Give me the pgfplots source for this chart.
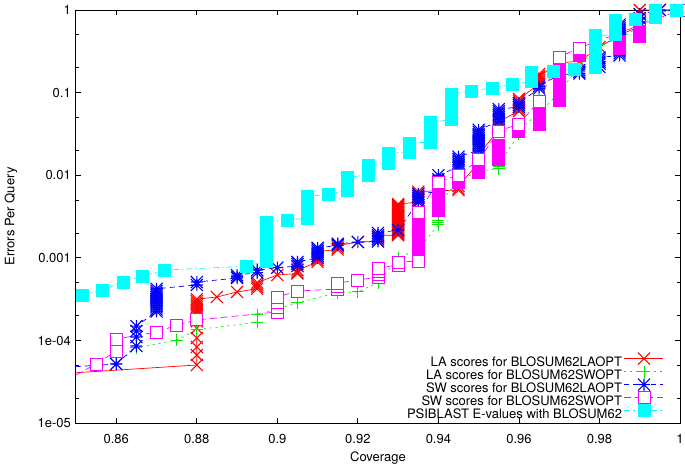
\documentclass[border=0pt]{standalone}
\usepackage{fontspec}
\setmainfont{TeX Gyre Heros}
\usepackage{pgfplots}
\pgfplotsset{compat=1.18}

\definecolor{gpred}{RGB}{255,0,0}
\definecolor{gpgreen}{RGB}{0,235,0}
\definecolor{gpblue}{RGB}{0,0,255}
\definecolor{gpmag}{RGB}{255,0,255}
\definecolor{gpcyan}{RGB}{0,255,255}
\newcommand\gpfont{\fontsize{13bp}{13bp}\selectfont}

% gnuplot-like point types, each one sets its own colours
\newcommand\gpxpath{%
  \pgfpathmoveto{\pgfqpoint{-\pgfplotmarksize}{-\pgfplotmarksize}}%
  \pgfpathlineto{\pgfqpoint{\pgfplotmarksize}{\pgfplotmarksize}}%
  \pgfpathmoveto{\pgfqpoint{-\pgfplotmarksize}{\pgfplotmarksize}}%
  \pgfpathlineto{\pgfqpoint{\pgfplotmarksize}{-\pgfplotmarksize}}}
\newcommand\gpppath{%
  \pgfpathmoveto{\pgfqpoint{-\pgfplotmarksize}{0pt}}%
  \pgfpathlineto{\pgfqpoint{\pgfplotmarksize}{0pt}}%
  \pgfpathmoveto{\pgfqpoint{0pt}{-\pgfplotmarksize}}%
  \pgfpathlineto{\pgfqpoint{0pt}{\pgfplotmarksize}}}
\newcommand\gpbpath{%
  \pgfpathrectangle{\pgfqpoint{-\pgfplotmarksize}{-\pgfplotmarksize}}%
    {\pgfqpoint{2\pgfplotmarksize}{2\pgfplotmarksize}}}
\pgfdeclareplotmark{gpx}{\pgfsetstrokecolor{gpred}\gpxpath\pgfusepathqstroke}
\pgfdeclareplotmark{gpplus}{\pgfsetstrokecolor{gpgreen}\gpppath\pgfusepathqstroke}
\pgfdeclareplotmark{gpstar}{\pgfsetstrokecolor{gpblue}\gpxpath\gpppath\pgfusepathqstroke}
\pgfdeclareplotmark{gpbox}{\pgfsetstrokecolor{gpmag}\pgfsetfillcolor{white}\gpbpath\pgfusepathqfillstroke}
\pgfdeclareplotmark{gpboxf}{\pgfsetstrokecolor{gpmag}\pgfsetfillcolor{gpmag}\gpbpath\pgfusepathqfillstroke}
\pgfdeclareplotmark{gpsq}{\pgfsetstrokecolor{gpcyan}\pgfsetfillcolor{gpcyan}\gpbpath\pgfusepathqfillstroke}

\begin{document}
\begin{tikzpicture}
\begin{axis}[
    name=ax,
    scale only axis,
    width=604bp, height=413bp,
    clip=false,
    xmin=0.85, xmax=1,
    ymin=1e-5, ymax=1,
    ymode=log,
    xtick={0.86,0.88,0.9,0.92,0.94,0.96,0.98,1},
    xticklabels={0.86,0.88,0.9,0.92,0.94,0.96,0.98,1},
    ytick={1e-5,1e-4,1e-3,1e-2,1e-1,1},
    yticklabels={1e-05,1e-04,0.001,0.01,0.1,1},
    minor ytick={2e-5,5e-5,2e-4,5e-4,2e-3,5e-3,2e-2,5e-2,2e-1,5e-1},
    major tick length=5bp, minor tick length=3bp,
    tick style={draw=black, line width=0.8bp},
    axis line style={draw=black, line width=1bp},
    xticklabel style={font=\gpfont, inner sep=0pt, anchor=base, yshift=-20bp},
    yticklabel style={font=\gpfont, inner sep=0pt, anchor=base east, xshift=-5bp, yshift=-4.7bp},
    xlabel={Coverage}, ylabel={Errors Per Query},
    label style={font=\gpfont, inner sep=0pt},
    xlabel style={at={(axis description cs:0.5,-0.0932)}, anchor=base},
    ylabel style={at={(axis description cs:-0.102,0.5)}, anchor=base},
    legend plot pos=right,
    legend cell align=right,
    legend style={at={(axis description cs:0.9719,0.0031)}, anchor=south east,
        draw=none, fill=none, inner sep=0pt, outer sep=0pt,
        row sep=-1.5bp, column sep=2bp, font=\gpfont,
        nodes={inner sep=0pt, text height=10bp, text depth=3bp}},
    legend image code/.code={%
        \path[draw=none, fill=none] (0bp,0bp) rectangle (39bp,8bp);
        \draw[overlay, mark repeat=2, mark phase=2, #1]
            plot coordinates {(0bp,4.6bp) (20bp,4.6bp) (39bp,4.6bp)};
    },
]

% ---- LA scores, BLOSUM62LAOPT
\addplot[forget plot, draw=gpred, line width=0.7bp] coordinates {(0.85,4.06e-5) (0.88,5.04e-5)};
\addplot[draw=gpred, line width=0.7bp, mark=gpx, mark size=6bp,
    mark options={solid, line width=1.1bp}] coordinates {
 (0.88,5.04e-5) (0.88,6.65e-5) (0.88,8.32e-5) (0.88,1.07e-4) (0.88,1.41e-4) (0.88,1.70e-4)
 (0.88,2.00e-4) (0.88,2.11e-4) (0.88,2.24e-4) (0.88,2.37e-4) (0.88,2.51e-4) (0.88,2.66e-4)
 (0.88,2.82e-4) (0.88,2.99e-4) (0.88,3.16e-4)
 (0.885,3.35e-4)
 (0.89,3.86e-4)
 (0.895,4.22e-4) (0.895,4.47e-4) (0.895,4.73e-4) (0.895,5.01e-4)
 (0.9,6.2e-4)
 (0.905,6.46e-4) (0.905,6.68e-4) (0.905,7.08e-4)
 (0.91,8.91e-4) (0.91,9.44e-4) (0.91,1.00e-3) (0.91,1.06e-3) (0.91,1.12e-3) (0.91,1.19e-3)
 (0.915,1.26e-3) (0.915,1.33e-3) (0.915,1.41e-3)
 (0.92,1.55e-3)
 (0.925,1.58e-3) (0.925,1.68e-3) (0.925,1.78e-3) (0.925,1.88e-3)
 (0.93,1.88e-3) (0.93,1.94e-3) (0.93,2.00e-3) (0.93,2.06e-3) (0.93,2.11e-3) (0.93,2.18e-3)
 (0.93,2.24e-3) (0.93,2.31e-3) (0.93,2.37e-3) (0.93,2.44e-3) (0.93,2.51e-3) (0.93,2.58e-3)
 (0.93,2.66e-3) (0.93,2.74e-3) (0.93,2.82e-3) (0.93,2.90e-3) (0.93,2.99e-3) (0.93,3.07e-3)
 (0.93,3.16e-3) (0.93,3.25e-3) (0.93,3.35e-3) (0.93,3.45e-3) (0.93,3.55e-3) (0.93,3.65e-3)
 (0.93,3.76e-3) (0.93,3.87e-3) (0.93,3.98e-3) (0.93,4.10e-3) (0.93,4.22e-3) (0.93,4.34e-3)
 (0.93,4.47e-3)
 (0.935,4.73e-3) (0.935,5.01e-3) (0.935,5.31e-3) (0.935,5.62e-3) (0.935,5.96e-3) (0.935,6.31e-3)
 (0.94,6.5e-3)
 (0.945,6.6e-3) (0.945,6.92e-3) (0.945,7.41e-3)
 (0.95,1.41e-2) (0.95,1.58e-2) (0.95,1.78e-2)
 (0.955,3.55e-2) (0.955,3.98e-2) (0.955,4.47e-2)
 (0.96,5.96e-2) (0.96,6.31e-2) (0.96,6.68e-2) (0.96,7.08e-2) (0.96,7.50e-2) (0.96,7.94e-2) (0.96,8.41e-2)
 (0.965,0.126) (0.965,0.133) (0.965,0.141) (0.965,0.150) (0.965,0.158) (0.965,0.168)
 (0.97,0.2) (0.97,0.229)
 (0.975,0.24)
 (0.98,0.355)
 (0.985,0.5)
 (0.99,0.631) (0.99,0.708) (0.99,0.794) (0.99,0.891) (0.99,1)
 (0.995,1) (1,1)
};
\addlegendentry{LA scores for BLOSUM62LAOPT}

% ---- LA scores, BLOSUM62SWOPT
\addplot[draw=gpgreen, line width=0.7bp, dash pattern=on 2bp off 4bp, mark=gpplus, mark size=6bp,
    mark options={solid, line width=1bp}] coordinates {
 (0.86,5.25e-5) (0.865,8.1e-5) (0.875,1.01e-4) (0.88,1.35e-4)
 (0.895,1.66e-4) (0.895,2.04e-4) (0.905,2.84e-4) (0.915,3.80e-4) (0.92,3.86e-4)
 (0.925,5.0e-4) (0.93,1.0e-3) (0.935,1.26e-3)
 (0.94,2.51e-3) (0.94,2.66e-3) (0.94,2.82e-3) (0.94,3.2e-3) (0.94,3.5e-3) (0.94,4.5e-3)
 (0.945,8.5e-3) (0.95,1.12e-2)
 (0.955,1.20e-2) (0.955,1.26e-2) (0.955,1.33e-2)
 (0.96,3.16e-2) (0.96,3.35e-2) (0.96,3.55e-2)
 (0.965,5.62e-2) (0.97,0.1) (0.975,0.21) (0.98,0.38) (0.985,0.447) (0.99,0.631)
 (0.995,0.955) (1,1)
};
\addlegendentry{LA scores for BLOSUM62SWOPT}

% ---- SW scores, BLOSUM62LAOPT
\addplot[forget plot, draw=gpblue, line width=0.7bp, dash pattern=on 5bp off 4bp] coordinates {(0.85,4.81e-5) (0.86,5.18e-5)};
\addplot[draw=gpblue, line width=0.7bp, dash pattern=on 5bp off 4bp, mark=gpstar, mark size=6bp,
    mark options={solid, line width=1.1bp}] coordinates {
 (0.86,5.18e-5)
 (0.865,8.55e-5) (0.865,1.10e-4) (0.865,1.30e-4) (0.865,1.49e-4)
 (0.87,2.24e-4) (0.87,2.37e-4) (0.87,2.51e-4) (0.87,2.66e-4) (0.87,2.82e-4) (0.87,2.99e-4)
 (0.87,3.16e-4) (0.87,3.35e-4) (0.87,3.55e-4) (0.87,3.76e-4) (0.87,3.98e-4) (0.87,4.22e-4)
 (0.88,4.69e-4) (0.88,5.09e-4)
 (0.89,5.69e-4) (0.89,5.9e-4) (0.89,6.17e-4)
 (0.895,6.61e-4) (0.895,7.08e-4)
 (0.9,7.6e-4)
 (0.905,7.94e-4) (0.905,8.41e-4) (0.905,8.91e-4)
 (0.91,1.00e-3) (0.91,1.06e-3) (0.91,1.12e-3) (0.91,1.19e-3) (0.91,1.26e-3) (0.91,1.32e-3)
 (0.915,1.41e-3) (0.915,1.48e-3)
 (0.92,1.55e-3)
 (0.925,1.58e-3) (0.925,1.68e-3) (0.925,1.78e-3) (0.925,1.88e-3) (0.925,2.00e-3)
 (0.93,2.17e-3)
 (0.935,4.73e-3) (0.935,5.01e-3) (0.935,5.31e-3) (0.935,5.62e-3) (0.935,5.96e-3)
 (0.94,6.31e-3) (0.94,7.08e-3) (0.94,7.94e-3) (0.94,8.91e-3) (0.94,1.0e-2)
 (0.945,1.26e-2) (0.945,1.33e-2) (0.945,1.41e-2) (0.945,1.50e-2) (0.945,1.58e-2) (0.945,1.68e-2)
 (0.95,2.00e-2) (0.95,2.11e-2) (0.95,2.24e-2) (0.95,2.37e-2) (0.95,2.51e-2) (0.95,2.66e-2)
 (0.95,2.82e-2) (0.95,2.99e-2) (0.95,3.16e-2) (0.95,3.35e-2) (0.95,3.55e-2)
 (0.955,4.47e-2) (0.955,4.73e-2) (0.955,5.01e-2) (0.955,5.31e-2) (0.955,5.62e-2) (0.955,5.96e-2) (0.955,6.31e-2)
 (0.96,6.68e-2) (0.96,7.08e-2) (0.96,7.50e-2)
 (0.965,0.112) (0.965,0.119)
 (0.97,0.165)
 (0.975,0.17) (0.975,0.178) (0.975,0.188)
 (0.98,0.204) (0.98,0.224) (0.98,0.237) (0.98,0.251) (0.98,0.266)
 (0.985,0.282) (0.985,0.299) (0.985,0.316) (0.985,0.335) (0.985,0.355) (0.985,0.376)
 (0.985,0.398) (0.985,0.422) (0.985,0.447) (0.985,0.473) (0.985,0.501) (0.985,0.531)
 (0.985,0.562) (0.985,0.596) (0.985,0.631) (0.985,0.668)
 (0.99,0.708) (0.99,0.794) (0.99,0.891)
 (0.995,1) (1,1)
};
\addlegendentry{SW scores for BLOSUM62LAOPT}

% ---- SW scores, BLOSUM62SWOPT (densely stacked points, then the series)
\addplot[forget plot, draw=gpmag, line width=0.7bp, dash pattern=on 7bp off 4bp] coordinates {(0.85,3.82e-5) (0.855,5.18e-5)};
\addplot[forget plot, only marks, mark=gpboxf, mark size=6bp,
    mark options={solid, line width=0.9bp}] coordinates {
 (0.935,2.51e-3) (0.935,2.0e-3) (0.935,1.58e-3) (0.935,1.26e-3) (0.935,1.0e-3) (0.935,9.12e-4)
 (0.94,5.75e-3) (0.94,4.57e-3) (0.94,3.72e-3)
 (0.945,8.28e-3)
 (0.95,1.26e-2) (0.95,1.07e-2)
 (0.955,2.32e-2) (0.955,1.91e-2) (0.955,1.53e-2)
 (0.96,3.43e-2)
 (0.965,5.5e-2) (0.965,4.79e-2) (0.965,4.17e-2)
 (0.97,0.186) (0.97,0.148) (0.97,0.117) (0.97,9.33e-2) (0.97,7.94e-2)
 (0.975,0.282)
 (0.985,0.343) (0.985,0.367) (0.985,0.394) (0.985,0.422)
 (0.99,0.55) (0.99,0.513) (0.99,0.479)
};
\addplot[draw=gpmag, line width=0.7bp, dash pattern=on 7bp off 4bp, mark=gpbox, mark size=6bp,
    mark options={solid, line width=0.9bp}] coordinates {
 (0.855,5.18e-5) (0.86,7.45e-5) (0.86,1.04e-4) (0.87,1.26e-4) (0.875,1.53e-4) (0.88,1.77e-4)
 (0.9,2.21e-4) (0.9,2.54e-4) (0.9,2.92e-4) (0.9,3.35e-4)
 (0.905,3.96e-4)
 (0.915,4.19e-4) (0.915,4.56e-4) (0.915,4.95e-4)
 (0.92,5.38e-4)
 (0.925,5.85e-4) (0.925,6.37e-4) (0.925,6.92e-4) (0.925,7.52e-4)
 (0.93,8.18e-4) (0.93,8.89e-4)
 (0.935,9.12e-4) (0.935,3.58e-3)
 (0.94,8.28e-3)
 (0.945,1.005e-2)
 (0.95,1.53e-2)
 (0.955,3.43e-2)
 (0.96,4.17e-2)
 (0.965,7.91e-2)
 (0.97,0.270)
 (0.975,0.347)
 (1,1)
};
\addlegendentry{SW scores for BLOSUM62SWOPT}

% ---- PSIBLAST E-values
\addplot[draw=gpcyan, line width=0.7bp, dash pattern=on 6bp off 3bp on 1.5bp off 3bp, mark=gpsq, mark size=6bp,
    mark options={solid}] coordinates {
 (0.8515,3.55e-4) (0.8565,4.07e-4) (0.8617,5.1e-4) (0.8666,6.0e-4) (0.8719,7.1e-4) (0.8922,7.9e-4)
 (0.8972,9.1e-4) (0.8972,1.12e-3) (0.8972,1.41e-3) (0.8972,1.78e-3) (0.8972,2.24e-3) (0.8972,2.69e-3)
 (0.9024,2.88e-3)
 (0.9074,3.0e-3) (0.9074,3.8e-3) (0.9074,4.7e-3) (0.9074,5.5e-3)
 (0.9126,5.9e-3)
 (0.9175,6.6e-3) (0.9175,7.9e-3) (0.9175,9.5e-3)
 (0.9225,1.00e-2) (0.9225,1.15e-2) (0.9225,1.32e-2)
 (0.9275,1.41e-2) (0.9275,1.62e-2) (0.9275,1.86e-2)
 (0.9327,1.91e-2) (0.9327,2.19e-2) (0.9327,2.45e-2)
 (0.9379,2.51e-2) (0.9379,3.02e-2) (0.9379,3.63e-2) (0.9379,4.37e-2)
 (0.9431,4.68e-2) (0.9431,5.62e-2) (0.9431,6.76e-2) (0.9431,8.13e-2) (0.9431,9.55e-2)
 (0.9483,0.105) (0.9533,0.114) (0.9583,0.127)
 (0.9632,0.135) (0.9632,0.155) (0.9632,0.174)
 (0.9685,0.182) (0.9737,0.193)
 (0.9789,0.204) (0.9789,0.251) (0.9789,0.316) (0.9789,0.398) (0.9789,0.490)
 (0.9839,0.501) (0.9839,0.603) (0.9839,0.741)
 (0.9888,0.776)
 (0.9940,0.82) (0.9940,0.91) (0.9940,1)
 (0.9990,1)
};
\addlegendentry{PSIBLAST E-values with BLOSUM62}

\end{axis}
\pgfresetboundingbox
\path ([xshift=-76bp,yshift=-45bp]ax.south west) rectangle ([xshift=5bp,yshift=10bp]ax.north east);
\end{tikzpicture}
\end{document}
